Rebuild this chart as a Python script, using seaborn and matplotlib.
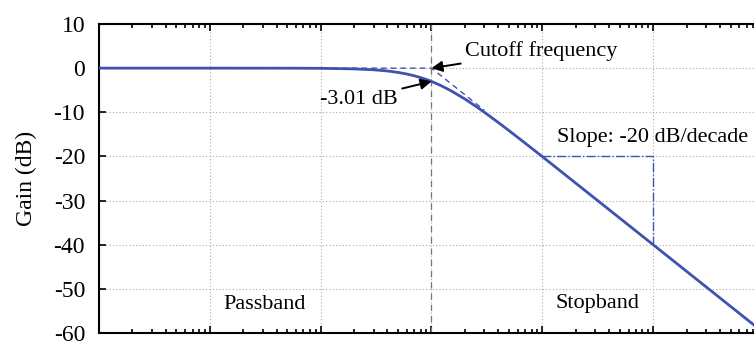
import numpy as np
import seaborn as sns
import pandas as pd
import matplotlib
matplotlib.use("Agg")
import matplotlib.pyplot as plt
import matplotlib.ticker as ticker

sns.set_style("ticks")
plt.rcParams.update(
    {
        "font.family": ["Liberation Serif", "DejaVu Serif"],
        "axes.unicode_minus": False,
        "axes.edgecolor": "black",
        "axes.linewidth": 1.5,
        "xtick.color": "black",
        "ytick.color": "black",
        "text.color": "black",
        "axes.labelcolor": "black",
    }
)

# normalised frequency (f / f_c) and gain
freq = [0.001, 0.01, 0.05, 0.1, 0.2, 0.3, 0.4, 0.5, 0.6, 0.7, 0.8, 0.9, 1.0,
        1.2, 1.5, 2.0, 2.5, 3.0, 4.0, 5.0, 7.0, 10.0, 100.0, 1000.0]
gain = [0.0, 0.0, -0.01, -0.04, -0.17, -0.37, -0.64, -0.97, -1.34, -1.74,
        -2.15, -2.57, -3.01, -3.87, -5.12, -6.99, -8.60, -10.0, -12.3, -14.15,
        -16.99, -20.04, -40.0, -60.0]

# straight-line asymptotes and slope marker
asym_x = [0.001, 1.0, 3.0]
asym_y = [0.0, 0.0, -9.54]
slope_x = [10.0, 100.0, 100.0]
slope_y = [-20.0, -20.0, -40.0]

yticks = [10, 0, -10, -20, -30, -40, -50, -60]
blue = "#4052b0"
fs = 16

df = pd.DataFrame({"freq": freq, "gain": gain})

fig = plt.figure(figsize=(7.54, 3.42), dpi=100)
ax = fig.add_axes([99 / 754, 9 / 342, 665 / 754, 309 / 342])

ax.set_xscale("log")
ax.set_xlim(1e-3, 1e3)
ax.set_ylim(-60, 10)
ax.set_yticks(yticks)
ax.xaxis.set_major_locator(ticker.LogLocator(base=10, numticks=10))
ax.xaxis.set_minor_locator(ticker.LogLocator(base=10, subs=np.arange(2, 10), numticks=20))

ax.grid(True, which="major", linestyle=(0, (1, 2)), color="#aaaaaa", linewidth=0.8)
ax.axvline(1.0, color="#777777", linestyle=(0, (5, 4)), linewidth=0.9, zorder=1)

ax.plot(asym_x, asym_y, color=blue, linestyle=(0, (4, 3)), linewidth=1.0, zorder=2)
ax.plot(slope_x, slope_y, color=blue, linestyle="-.", linewidth=1.0, zorder=2)

sns.lineplot(data=df, x="freq", y="gain", color=blue, linewidth=2.0, ax=ax, zorder=3)

ax.tick_params(which="both", direction="in", top=True, right=True, width=1.2)
ax.tick_params(which="major", length=5)
ax.tick_params(which="minor", length=3)
ax.tick_params(axis="y", labelsize=fs + 1, pad=10)
ax.tick_params(axis="x", labelbottom=False)

ax.set_xlabel("")
ax.set_ylabel("Gain (dB)", fontsize=fs + 1, labelpad=12)

arrow = dict(arrowstyle="-|>", color="black", lw=1.4, mutation_scale=16,
             shrinkA=1, shrinkB=0)
ax.annotate("Cutoff frequency", xy=(1.0, 0.0), xytext=(2.02, 3.9),
            fontsize=fs, ha="left", va="center", arrowprops=arrow)
ax.annotate("-3.01 dB", xy=(1.0, -3.01), xytext=(0.494, -7.0),
            fontsize=fs, ha="right", va="center", arrowprops=arrow)
ax.text(13.6, -15.7, "Slope: -20 dB/decade", fontsize=fs, ha="left", va="center")
ax.text(0.031, -53.6, "Passband", fontsize=fs, ha="center", va="center")
ax.text(31.3, -53.4, "Stopband", fontsize=fs, ha="center", va="center")

fig.savefig("out.png", dpi=100)
